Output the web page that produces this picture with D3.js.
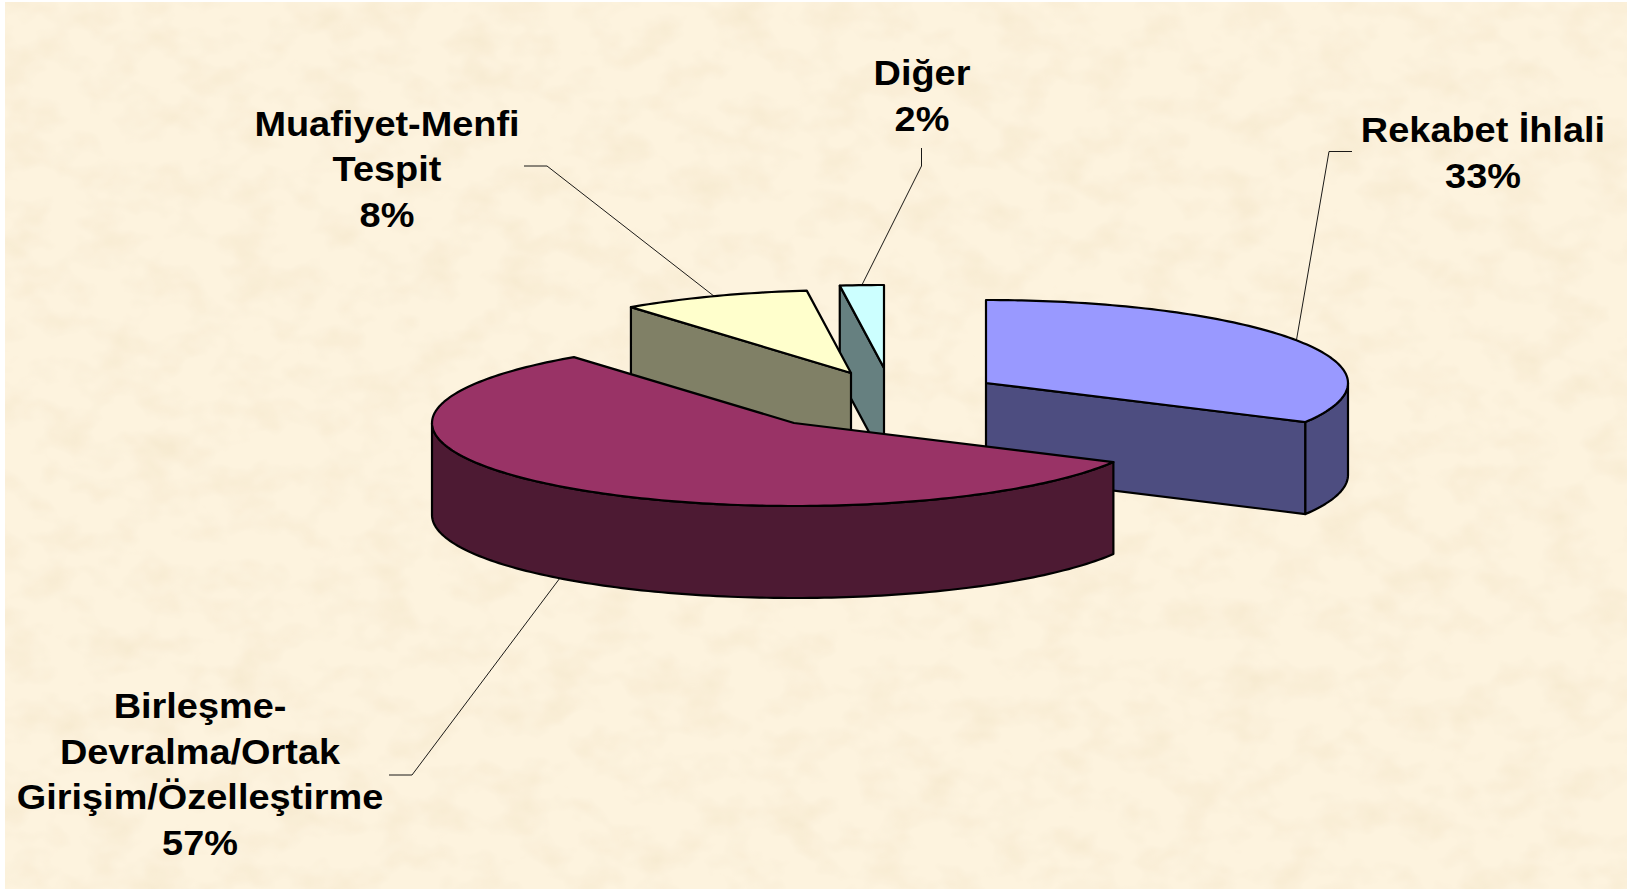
<!DOCTYPE html>
<html>
<head>
<meta charset="utf-8">
<script src="https://cdn.jsdelivr.net/npm/d3@7"></script>
<style>
    html, body { margin: 0; padding: 0; background: #ffffff; overflow: hidden; }
    text { font-family: "Liberation Sans", Arial, sans-serif; font-weight: bold; fill: #000000; }
</style>
</head>
<body>
<div id="chart"></div>
<script>
const categories = ['Rekabet İhlali', 'Birleşme-Devralma/Ortak Girişim/Özelleştirme', 'Muafiyet-Menfi Tespit', 'Diğer'];
const values = [32.8, 56.8, 8.45, 1.95];
const label_lines = [
    ['Rekabet İhlali', '33%'],
    ['Birleşme-', 'Devralma/Ortak', 'Girişim/Özelleştirme', '57%'],
    ['Muafiyet-Menfi', 'Tespit', '8%'],
    ['Diğer', '2%']
];

// styling and layout
const top_colors = ['#9999ff', '#993366', '#ffffcc', '#ccffff'];
const side_colors = ['#4d4d80', '#4d1a33', '#808066', '#668080'];
const explode = [[80, -11], [-112, 29], [-55, -21], [-22, -26]];
const label_pos = [[1483, 142], [200, 718], [387, 135.5], [922, 85]];
const leader_from = [[1352, 151.5], [389, 775], [524, 166], [921.5, 148]];
const leader_elbow = [[1329, 151.5], [412, 775], [547, 166], [921.5, 166]];
const leader_on_base = [false, true, false, false];
const draw_order = [3, 2, 0, 1];

const width = 1627,
    height = 890,
    center_x = 906,
    center_y = 394,
    rx = 362,
    ry = 83,
    depth = 92,
    line_height = 45.6,
    font_size = 35,
    stretch = 1.083;

const svg = d3.select('#chart').append('svg')
    .attr('version', 1.1)
    .attr('xmlns', 'http://www.w3.org/2000/svg')
    .attr('width', width)
    .attr('height', height)
    .style('display', 'block');

// parchment background
const filter = svg.append('defs').append('filter')
    .attr('id', 'parchment')
    .attr('x', 0).attr('y', 0).attr('width', '100%').attr('height', '100%');
filter.append('feTurbulence')
    .attr('type', 'fractalNoise')
    .attr('baseFrequency', '0.022 0.03')
    .attr('numOctaves', 3)
    .attr('seed', 7);
filter.append('feColorMatrix')
    .attr('type', 'matrix')
    .attr('values', '0 0 0 0 0.91  0 0 0 0 0.80  0 0 0 0 0.60  1.6 0 0 0 -0.72');
filter.append('feComposite').attr('operator', 'in').attr('in2', 'SourceGraphic');
filter.append('feMerge').call(function(m) {
    m.append('feMergeNode').attr('in', 'SourceGraphic');
    m.append('feMergeNode');
});

svg.append('rect')
    .attr('x', 5)
    .attr('y', 2)
    .attr('width', width - 5)
    .attr('height', height - 3)
    .attr('fill', '#fdf3de');
svg.append('rect')
    .attr('x', 5)
    .attr('y', 2)
    .attr('width', width - 5)
    .attr('height', height - 3)
    .attr('fill', '#fdf3de')
    .attr('filter', 'url(#parchment)');

const pie = d3.pie().sort(null).startAngle(0).endAngle(2 * Math.PI);
const arcs = pie(values);

const line = d3.line().x((d) => d[0]).y((d) => d[1]);

const on_rim = function(angle, cx, cy) {
    return [cx + rx * Math.sin(angle), cy - ry * Math.cos(angle)];
};

const rim_points = function(a, b, cx, cy) {
    const n = Math.max(2, Math.ceil((b - a) / 0.02));
    return d3.range(n + 1).map((i) => on_rim(a + (b - a) * i / n, cx, cy));
};

const dropped = (points) => points.map((p) => [p[0], p[1] + depth]).reverse();

const faces = svg.append('g')
    .attr('stroke', '#000000')
    .attr('stroke-width', 2.2)
    .attr('stroke-linejoin', 'round');

draw_order.forEach(function(i) {
    const d = arcs[i];
    const cx = center_x + explode[i][0],
        cy = center_y + explode[i][1];
    const apex = [cx, cy];
    const g = faces.append('g');

    const wall = function(points) {
        g.append('path')
            .attr('d', line(points.concat(dropped(points))) + 'Z')
            .attr('fill', side_colors[i]);
    };

    // radial cut faces, only the ones turned to the viewer
    if (Math.sin(d.startAngle) < -1e-6) wall([apex, on_rim(d.startAngle, cx, cy)]);
    if (Math.sin(d.endAngle) > 1e-6) wall([apex, on_rim(d.endAngle, cx, cy)]);

    // outer wall on the front half of the rim
    const front_a = Math.max(d.startAngle, Math.PI / 2),
        front_b = Math.min(d.endAngle, 3 * Math.PI / 2);
    if (front_b > front_a) wall(rim_points(front_a, front_b, cx, cy));

    g.append('path')
        .attr('d', line([apex].concat(rim_points(d.startAngle, d.endAngle, cx, cy))) + 'Z')
        .attr('fill', top_colors[i]);
});

// leader lines end at the middle of each slice's rim
const leaders = svg.append('g')
    .attr('fill', 'none')
    .attr('stroke', '#000000')
    .attr('stroke-width', 0.9);

arcs.forEach(function(d, i) {
    const cx = center_x + explode[i][0],
        cy = center_y + explode[i][1] + (leader_on_base[i] ? depth : 0);
    leaders.append('path')
        .attr('d', line([leader_from[i], leader_elbow[i], on_rim((d.startAngle + d.endAngle) / 2, cx, cy)]));
});

const labels = svg.append('g')
    .attr('font-size', font_size);

categories.forEach(function(name, i) {
    const group = labels.append('g')
        .attr('transform', 'translate(' + label_pos[i][0] + ',' + label_pos[i][1] + ') scale(' + stretch + ',1)');
    group.selectAll('text')
        .data(label_lines[i])
        .enter().append('text')
        .attr('y', (d, j) => j * line_height)
        .attr('text-anchor', 'middle')
        .text((d) => d);
});
</script>
</body>
</html>
